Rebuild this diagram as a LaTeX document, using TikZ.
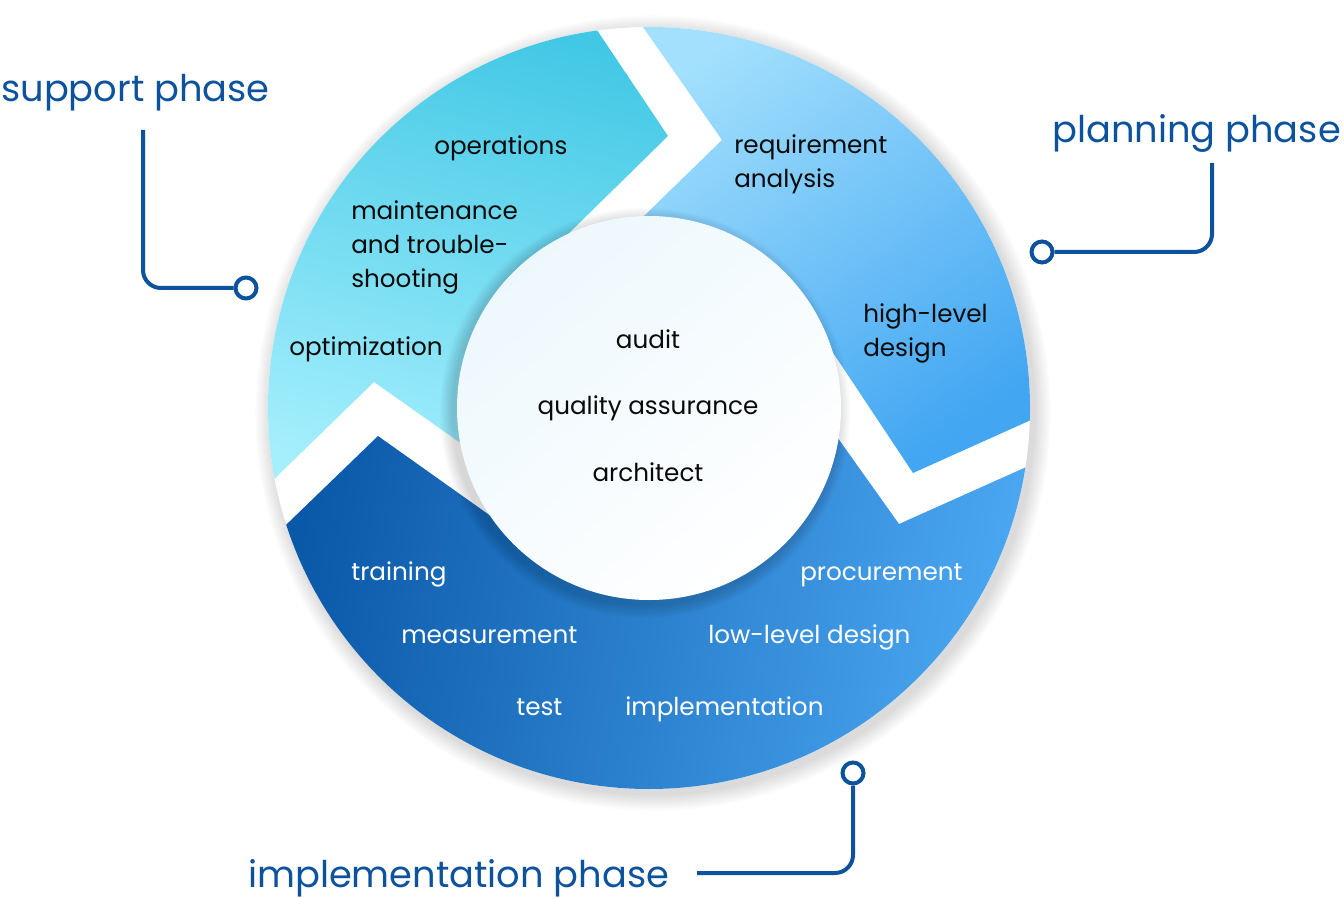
\documentclass[tikz,border=0pt]{standalone}
\usepackage{fontspec}
\setmainfont{Poppins}
\newfontfamily\ringfont{Poppins}
\definecolor{supA}{HTML}{42C8E5}
\definecolor{supB}{HTML}{A5EFFD}
\definecolor{plaA}{HTML}{A3E0FD}
\definecolor{plaB}{HTML}{42A6F2}
\definecolor{impA}{HTML}{0A58A8}
\definecolor{impB}{HTML}{4CA8F2}
\definecolor{inA}{HTML}{EDF8FD}
\definecolor{labelblue}{HTML}{0D529C}
\definecolor{ink}{HTML}{0A0A0A}
\begin{document}
\begin{tikzpicture}[x=0.75pt,y=-0.75pt,
  ringtxt/.style={font=\ringfont\fontsize{18.5pt}{22pt}\selectfont, text=ink, inner sep=0pt, anchor=base west},
  ringwhite/.style={ringtxt, text=white},
  centertxt/.style={ringtxt, anchor=base},
  phasetxt/.style={font=\fontsize{27.6pt}{32pt}\selectfont, text=labelblue, inner sep=0pt, anchor=base west},
  dot/.style={circle, draw=labelblue, line width=3pt, fill=white, minimum size=15.75pt, inner sep=0pt},
  callout/.style={draw=labelblue, line width=3pt, rounded corners=13.5pt}
]
\useasboundingbox (0,0) rectangle (1344,898);
\coordinate (C) at (649,408);

% outer shadow (only outside the disk)
\foreach \i in {1,...,12}{
  \fill[black, opacity=0.012] (653,413) circle ({(381+\i*1.4)*0.75pt});
}
\fill[white] (C) circle (285.75pt);

% support segment
\begin{scope}
\clip (C) circle (285.75pt);
\clip (520,485) -- (374,382) -- (230,522) -- (150,520) -- (150,-30) -- (560,-25) -- (668,136) -- (510,291) -- cycle;
\shade[top color=supA, bottom color=supB, shading angle=-15] (250,20) rectangle (690,500);
\end{scope}

% planning segment
\begin{scope}
\clip (C) circle (285.75pt);
\clip (607,252) -- (722,140) -- (610,-20) -- (1100,-20) -- (1100,389) -- (913,473) -- (800,303) -- cycle;
\shade[top color=plaA, bottom color=plaB, shading angle=35] (600,20) rectangle (1040,480);
\end{scope}

% implementation segment
\begin{scope}
\clip (C) circle (285.75pt);
\clip (540,551) -- (378,436) -- (230,579) -- (230,850) -- (1100,850) -- (1100,434) -- (899,524) -- (820,413) -- cycle;
\shade[left color=impA, right color=impB, shading angle=80] (260,420) rectangle (1040,800);
\end{scope}

% inner shadow
\begin{scope}
\clip (C) circle (285.75pt);
\foreach \i in {1,...,10}{
  \fill[black, opacity=0.016] (645,413) circle ({(192+\i*1.3)*0.75pt});
}
\end{scope}
\shade[top color=inA, bottom color=white, shading angle=40] (C) circle (144pt);

% ring texts
\node[ringtxt] (ops) at (434,155) {operations};
\node[ringtxt] (mnt1) at (351,220) {maintenance};
\node[ringtxt] (mnt2) at (351,254) {and trouble-};
\node[ringtxt] (mnt3) at (351,288) {shooting};
\node[ringtxt] (opt) at (289,355) {optimization};
\node[ringtxt] (req1) at (734,154) {requirement};
\node[ringtxt] (req2) at (734,188) {analysis};
\node[ringtxt] (hld1) at (863,322) {high-level};
\node[ringtxt] (hld2) at (863,356) {design};
\node[centertxt] (aud) at (648,348) {audit};
\node[centertxt] (qa) at (648,414) {quality assurance};
\node[centertxt] (arc) at (648,481) {architect};
\node[ringwhite] (trn) at (351,580) {training};
\node[ringwhite] (msr) at (401,643) {measurement};
\node[ringwhite] (tst) at (516,715) {test};
\node[ringwhite] (imp) at (625,715) {implementation};
\node[ringwhite] (lld) at (708,643) {low-level design};
\node[ringwhite] (prc) at (800,580) {procurement};

% phase labels
\node[phasetxt] (spL) at (1,102) {support phase};
\node[phasetxt] (plL) at (1052,143) {planning phase};
\node[phasetxt] (imL) at (248,887) {implementation phase};

% callouts
\node[dot] (spDot) at (246,288) {};
\node[dot] (plDot) at (1042,252) {};
\node[dot] (imDot) at (853,773) {};
\coordinate (spTop) at (143,130);
\coordinate (plTop) at (1212,163);
\coordinate (imStart) at (697,873);
\draw[callout] (spTop) |- (spDot.west);
\draw[callout] (plTop) |- (plDot.east);
\draw[callout] (imStart) -| (imDot.south);
\end{tikzpicture}
\end{document}
